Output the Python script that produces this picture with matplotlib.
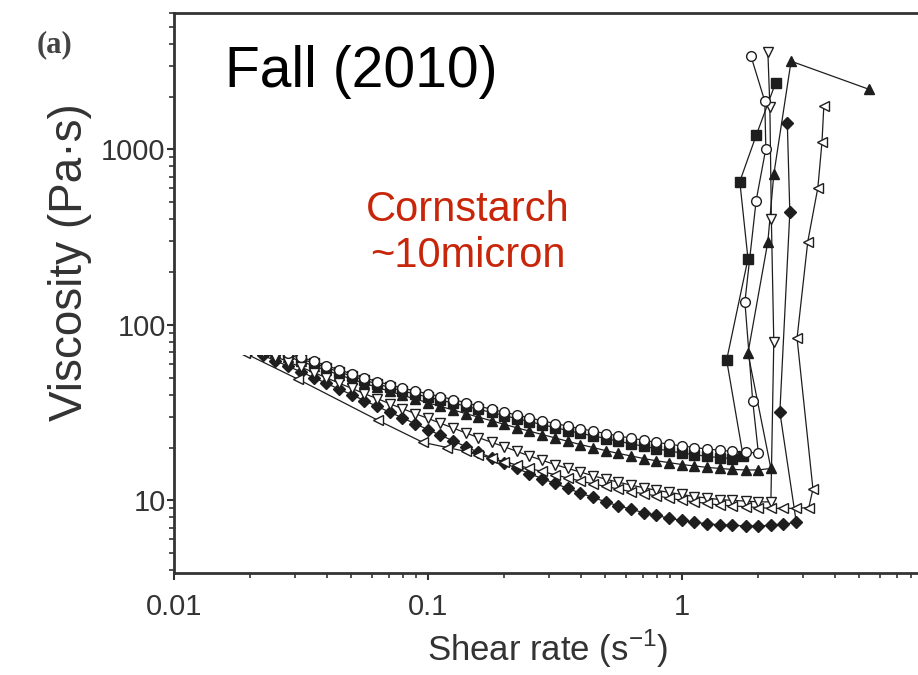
import matplotlib
matplotlib.use('Agg')
import matplotlib.pyplot as plt
from matplotlib.patches import Rectangle
from matplotlib.ticker import LogLocator, NullFormatter, FixedLocator, FixedFormatter

plt.rcParams['font.family'] = ['Liberation Sans', 'DejaVu Sans']

# shear rates (1/s) shared by the shear-thinning part of the curves
rate_base = [0.0200, 0.0224, 0.0251, 0.0282, 0.0316, 0.0355, 0.0398, 0.0447,
             0.0501, 0.0562, 0.0631, 0.0708, 0.0794, 0.0891, 0.100, 0.112,
             0.126, 0.141, 0.158, 0.178, 0.200, 0.224, 0.251, 0.282,
             0.316, 0.355, 0.398, 0.447, 0.501, 0.562, 0.631, 0.708,
             0.794, 0.891, 1.00, 1.12, 1.26, 1.41, 1.58, 1.78,
             2.00, 2.24, 2.51, 2.82]

# viscosity (Pa.s) along rate_base, then the shear-thickening jump
eta_circle = [82, 78, 74, 69.5, 65.5, 62, 58.5, 55.5, 52.5, 50, 47.5, 45.5,
              43.5, 42, 40.5, 39, 37.5, 36, 34.5, 33, 31.8, 30.6, 29.5, 28.4,
              27.4, 26.5, 25.6, 24.8, 24.0, 23.3, 22.6, 22.0, 21.4, 20.9,
              20.4, 20.0, 19.6, 19.3, 19.0, 18.8, 18.6]
jump_circle_x = [1.90, 1.77, 1.96, 2.14, 2.12, 1.87]
jump_circle_y = [36.8, 135, 511, 1010, 1880, 3400]

eta_square = [80, 76, 72, 68, 64, 60.5, 57, 54, 51, 48.5, 46, 44, 42, 40.3,
              38.8, 37.2, 35.8, 34.4, 33, 31.7, 30.4, 29.2, 28.1, 27, 26, 25,
              24.1, 23.3, 22.5, 21.7, 21, 20.3, 19.7, 19.1, 18.6, 18.2, 17.8,
              17.5, 17.3]
jump_square_x = [1.74, 1.50, 1.82, 1.69, 1.96, 2.34]
jump_square_y = [18, 63, 238, 656, 1200, 2400]

eta_tri_up = [78, 74, 70, 66, 62, 58.5, 55, 52, 49, 46.5, 44, 41.8, 39.7,
              37.8, 36, 34.3, 32.7, 31.2, 29.8, 28.4, 27.1, 25.9, 24.8, 23.7,
              22.7, 21.7, 20.8, 20.0, 19.2, 18.5, 17.9, 17.3, 16.8, 16.4,
              16.0, 15.7, 15.4, 15.2, 15.0, 14.9, 14.9, 15.2]
jump_tri_up_x = [1.82, 2.18, 2.30, 2.69, 5.45]
jump_tri_up_y = [69, 298, 720, 3180, 2200]

eta_tri_down = [75, 70, 66, 61.5, 57.5, 53.5, 50, 46.5, 43.5, 40.5, 38, 35.5,
                33.3, 31.2, 29.3, 27.5, 25.8, 24.2, 22.8, 21.4, 20.2, 19.0,
                17.9, 16.9, 16.0, 15.2, 14.5, 13.8, 13.2, 12.7, 12.2, 11.8,
                11.4, 11.1, 10.8, 10.5, 10.3, 10.1, 10.0, 9.9, 9.8, 9.8]
jump_tri_down_x = [2.30, 2.25, 2.22, 2.18]
jump_tri_down_y = [80, 400, 1740, 3580]

eta_diamond = [72, 67, 62.5, 58, 54, 50, 46.5, 43, 40, 37, 34.3, 31.8, 29.5,
               27.3, 25.3, 23.5, 21.8, 20.2, 18.8, 17.5, 16.3, 15.2, 14.2,
               13.3, 12.5, 11.7, 11.0, 10.4, 9.8, 9.3, 8.9, 8.5, 8.2, 7.9,
               7.7, 7.5, 7.35, 7.25, 7.2, 7.15, 7.15, 7.2, 7.3, 7.5]
jump_diamond_x = [2.43, 2.66, 2.60]
jump_diamond_y = [31.8, 437, 1410]

rate_left = [0.019, 0.0308, 0.0635, 0.0955, 0.119, 0.141, 0.158, 0.178,
             0.200, 0.224, 0.251, 0.282, 0.316, 0.355, 0.398, 0.447, 0.501,
             0.562, 0.631, 0.708, 0.794, 0.891, 1.00, 1.12, 1.26, 1.41,
             1.58, 1.78, 2.00, 2.24, 2.51, 2.82, 3.16]
eta_left = [69, 49, 28.6, 21.4, 20, 19.0, 18.2, 17.4, 16.6, 15.9, 15.2,
            14.6, 14.0, 13.4, 12.9, 12.4, 12.0, 11.6, 11.2, 10.9, 10.6, 10.3,
            10.0, 9.8, 9.6, 9.4, 9.3, 9.2, 9.1, 9.0, 9.0, 9.0, 9.1]
jump_left_x = [3.28, 2.84, 3.13, 3.43, 3.56, 3.62]
jump_left_y = [11.6, 84, 298, 606, 1100, 1760]

series = [
    (eta_diamond, jump_diamond_x, jump_diamond_y, 'D', 'filled', 6.0),
    (eta_tri_up, jump_tri_up_x, jump_tri_up_y, '^', 'filled', 7.5),
    (eta_square, jump_square_x, jump_square_y, 's', 'filled', 6.5),
    (eta_tri_down, jump_tri_down_x, jump_tri_down_y, 'v', 'open', 7.5),
    (eta_circle, jump_circle_x, jump_circle_y, 'o', 'open', 7.0),
]

ink = '#1e1e1e'
axcol = '#333333'

fig = plt.figure(figsize=(9.18, 6.75), dpi=100)
ax = fig.add_axes([0.1895, 0.151, 0.830, 0.830])

for eta, jx, jy, mk, fill, ms in series:
    xs = rate_base[:len(eta)] + jx
    ys = eta + jy
    ax.plot(xs, ys, color=ink, lw=0.9, marker=mk, ms=ms, mew=1.0,
            mec=ink, mfc=ink if fill == 'filled' else 'white')

ax.plot(rate_left + jump_left_x, eta_left + jump_left_y, color=ink, lw=0.9,
        marker='<', ms=7.5, mew=1.0, mec=ink, mfc='white')

ax.set_xscale('log')
ax.set_yscale('log')
ax.set_xlim(0.01, 10)
ax.set_ylim(3.85, 6000)

for s in ['left', 'bottom', 'top', 'right']:
    ax.spines[s].set_color(axcol)
    ax.spines[s].set_linewidth(2.0)

ax.xaxis.set_major_locator(FixedLocator([0.01, 0.1, 1]))
ax.xaxis.set_major_formatter(FixedFormatter(['0.01', '0.1', '1']))
ax.xaxis.set_minor_locator(LogLocator(base=10, subs=range(2, 10)))
ax.xaxis.set_minor_formatter(NullFormatter())
ax.yaxis.set_major_locator(FixedLocator([10, 100, 1000]))
ax.yaxis.set_major_formatter(FixedFormatter(['10', '100', '1000']))
ax.yaxis.set_minor_locator(LogLocator(base=10, subs=range(2, 10)))
ax.yaxis.set_minor_formatter(NullFormatter())

ax.tick_params(which='major', length=5, width=1.5, color=axcol,
               labelsize=21, labelcolor=axcol)
ax.tick_params(which='minor', length=3.5, width=1.2, color=axcol)
ax.tick_params(axis='y', which='major', pad=1)
ax.tick_params(axis='x', which='major', pad=9)
ax.tick_params(top=False, right=False, which='both')

ax.set_xlabel('Shear rate (s$^{\\mathregular{-1}}$)', fontsize=25, color=axcol)
ax.set_ylabel('Viscosity (Pa·s)', fontsize=33, color=axcol)
ax.xaxis.set_label_coords((548 - 174) / 762, -0.098)
ax.yaxis.set_label_coords(-0.108, (573 - 262) / 560)

fig.text(55 / 918, 1 - 45 / 675, '(a)', fontsize=22, family='Liberation Serif',
         fontweight='bold', color='#444444', ha='center', va='center')

# white overlay box with the annotation
fig.patches.append(Rectangle((182 / 918, 1 - 355 / 675), 491 / 918, 331 / 675,
                             transform=fig.transFigure, facecolor='white',
                             edgecolor='none', zorder=10))
fig.text(225 / 918, 1 - 72 / 675, 'Fall (2010)', fontsize=41, color='black',
         ha='left', va='center', zorder=11)
fig.text(468 / 918, 1 - 233 / 675, 'Cornstarch\n~10micron', fontsize=30,
         color='#C8260A', ha='center', va='center', linespacing=1.2, zorder=11)

fig.savefig('out.png', dpi=100)
